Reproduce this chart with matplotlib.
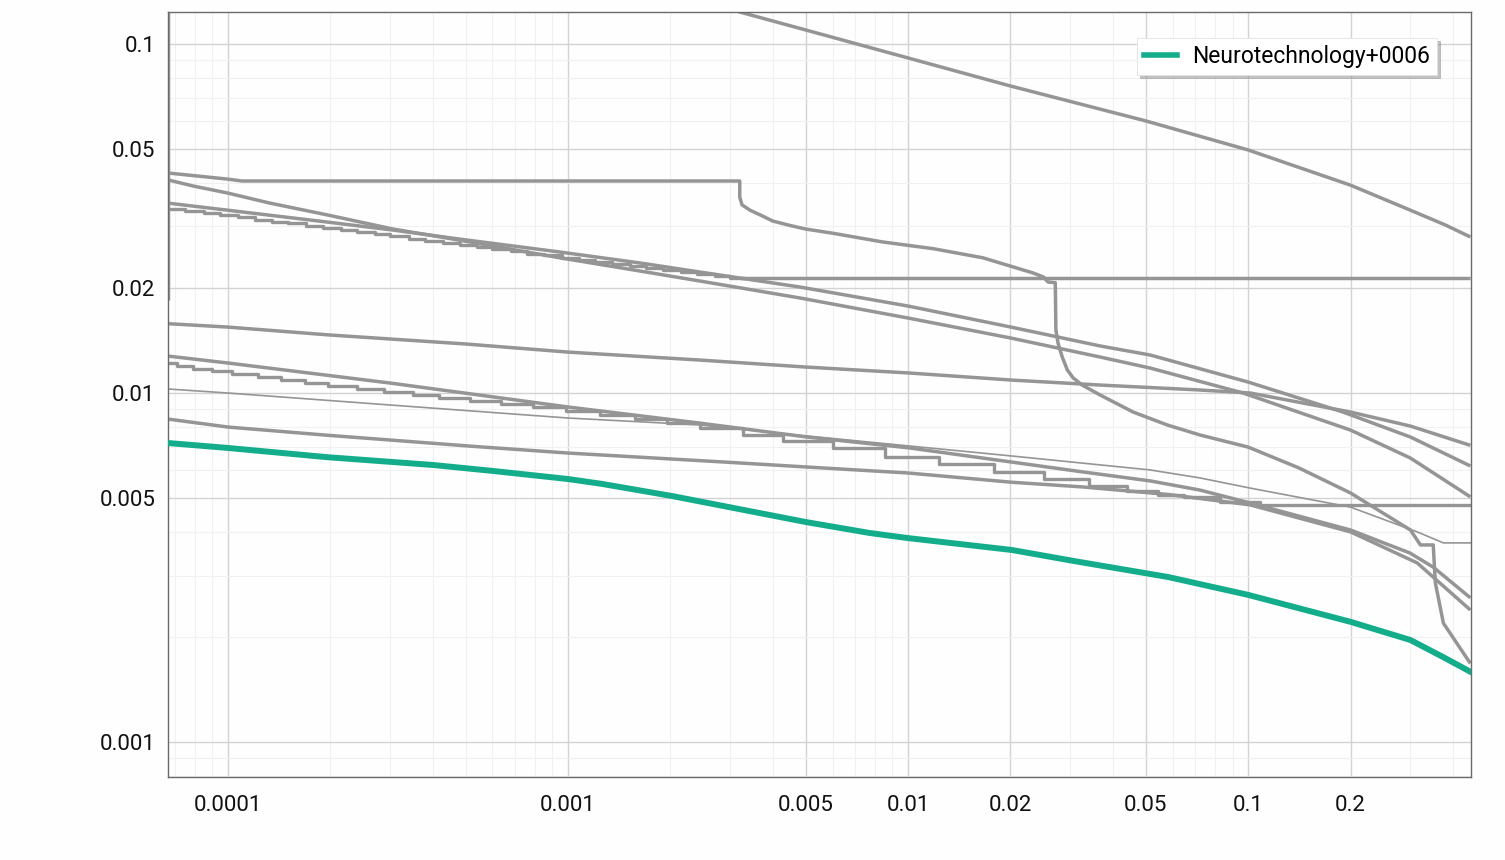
import matplotlib
matplotlib.use('Agg')
import matplotlib.pyplot as plt
from matplotlib.ticker import FixedLocator, FixedFormatter, LogLocator, NullFormatter

plt.rcParams['font.family'] = ['Roboto', 'DejaVu Sans']

# --- data ---
green_x = [6.67e-5, 1e-4, 1.955e-4, 4.01e-4, 6.02e-4, 1e-3, 1.26e-3, 2.02e-3, 2.98e-3, 5e-3, 7.73e-3,
           0.01, 0.0202, 0.0308, 0.0582, 0.1, 0.2, 0.3, 0.375, 0.45]
green_y = [0.00719, 0.00696, 0.00655, 0.00622, 0.00598, 0.00567, 0.00549, 0.00507, 0.00471, 0.00427,
           0.00397, 0.00384, 0.00355, 0.0033, 0.00297, 0.00264, 0.00221, 0.00196, 0.00175, 0.00159]

top_x = [3.0e-3, 3.2e-3, 5e-3, 0.01, 0.02, 0.05, 0.1, 0.2, 0.3, 0.38, 0.45]
top_y = [0.127, 0.1235, 0.1097, 0.0912, 0.0758, 0.0602, 0.0497, 0.0394, 0.0334, 0.0303, 0.028]

drop_x = [6.67e-5, 1e-4, 1.1e-4, 3.2e-3, 3.2e-3, 3.25e-3, 3.43e-3, 3.72e-3, 4.0e-3, 4.5e-3, 5.0e-3,
          6.0e-3, 8.4e-3, 0.0119, 0.0166, 0.0209, 0.0233, 0.025, 0.0258, 0.0271, 0.0272, 0.0276,
          0.0284, 0.0294, 0.0306, 0.0325, 0.0367, 0.0459, 0.0578, 0.0722, 0.1, 0.141, 0.2, 0.3, 0.321,
          0.35, 0.355, 0.375, 0.45]
drop_y = [0.0427, 0.041, 0.0405, 0.0405, 0.0364, 0.0346, 0.0334, 0.0322, 0.0311, 0.0302, 0.0295,
          0.0287, 0.0271, 0.0259, 0.0244, 0.0228, 0.02208, 0.0215, 0.0208, 0.0207, 0.0152, 0.0139,
          0.01268, 0.01164, 0.01104, 0.01054, 0.00987, 0.00882, 0.0081, 0.00758, 0.007, 0.0061,
          0.00517, 0.00405, 0.00367, 0.00367, 0.00286, 0.00219, 0.00168]

flat_x = [3.2e-3, 0.45]
flat_y = [0.0214, 0.0214]

edge_x = [6.67e-5, 6.67e-5]
edge_y = [0.13, 0.0185]

e_x = [6.67e-5, 7.89e-5, 1e-4, 1.33e-4, 1.955e-4, 3.06e-4, 4.81e-4, 9.47e-4, 1.63e-3, 2.44e-3, 4.81e-3,
       0.01, 0.02, 0.0367, 0.0515, 0.0966, 0.2, 0.3, 0.45]
e_y = [0.0408, 0.0392, 0.0374, 0.035, 0.0324, 0.0295, 0.0274, 0.0244, 0.02236, 0.02094, 0.01872,
       0.0164, 0.01438, 0.01268, 0.01179, 0.01, 0.00783, 0.00651, 0.00504]

f_x = [6.67e-5, 1e-4, 1.955e-4, 3.06e-4, 4.81e-4, 9.47e-4, 1.63e-3, 2.44e-3, 4.81e-3, 0.01, 0.02,
       0.0367, 0.0515, 0.1, 0.19, 0.3, 0.45]
f_y = [0.035, 0.0334, 0.0309, 0.0293, 0.0276, 0.02535, 0.02358, 0.02222, 0.02012, 0.01775, 0.01546,
       0.01364, 0.01285, 0.01075, 0.00882, 0.00748, 0.00618]

g_x = [6.7e-5, 7.5e-5, 8.5e-5, 9.5e-5, 1.07e-4, 1.2e-4, 1.35e-4, 1.5e-4, 1.7e-4, 1.9e-4, 2.15e-4,
       2.4e-4, 2.7e-4, 3.0e-4, 3.4e-4, 3.8e-4, 4.3e-4, 4.8e-4, 5.4e-4, 6.0e-4, 6.8e-4, 7.6e-4, 8.5e-4,
       9.6e-4, 1.08e-3, 1.2e-3, 1.35e-3, 1.52e-3, 1.7e-3, 1.9e-3, 2.15e-3, 2.4e-3, 2.7e-3, 3.0e-3, 3.3e-3]
g_y = [0.0337, 0.0332, 0.0328, 0.0323, 0.0319, 0.0314, 0.0310, 0.0306, 0.0301, 0.0297, 0.0293,
       0.0289, 0.0285, 0.0281, 0.0277, 0.0273, 0.0269, 0.0266, 0.0262, 0.0258, 0.0255, 0.0251, 0.0248,
       0.0244, 0.0241, 0.0238, 0.0234, 0.0231, 0.0228, 0.0225, 0.0222, 0.0219, 0.0216, 0.0213, 0.0213]

l_x = [6.67e-5, 1e-4, 2e-4, 5e-4, 1e-3, 2.44e-3, 5e-3, 0.0101, 0.0202, 0.0367, 0.0722, 0.1014, 0.2, 0.3, 0.45]
l_y = [0.0158, 0.01545, 0.01466, 0.01382, 0.0131, 0.01243, 0.01187, 0.01141, 0.01089, 0.01054, 0.0102,
       0.01, 0.00882, 0.00804, 0.00708]

h_x = [6.67e-5, 1e-4, 3.0e-4, 1e-3, 2.44e-3, 5.05e-3, 0.0101, 0.0202, 0.0327, 0.0515, 0.0722, 0.1014,
       0.2, 0.299, 0.35, 0.45]
h_y = [0.01276, 0.01219, 0.01068, 0.00912, 0.0082, 0.00748, 0.00696, 0.00634, 0.00594, 0.0056, 0.00527,
       0.00484, 0.00405, 0.00348, 0.00317, 0.00259]

i_x = [6.67e-5, 7.08e-5, 7.89e-5, 8.97e-5, 1.03e-4, 1.225e-4, 1.43e-4, 1.685e-4, 1.97e-4, 2.39e-4,
       2.88e-4, 3.5e-4, 4.17e-4, 5.15e-4, 6.35e-4, 7.89e-4, 9.87e-4, 1.242e-3, 1.574e-3, 1.955e-3,
       2.44e-3, 3.27e-3, 4.29e-3, 6.01e-3, 8.55e-3, 1.233e-2, 1.79e-2, 2.51e-2, 3.41e-2, 4.4e-2,
       5.43e-2, 6.48e-2, 8.27e-2, 0.1084, 0.45]
i_y = [0.01219, 0.01195, 0.01172, 0.01156, 0.01133, 0.01111, 0.01089, 0.01068, 0.01047, 0.01027,
       0.01007, 0.00987, 0.00968, 0.00948, 0.0093, 0.00912, 0.00888, 0.00865, 0.00842, 0.0082,
       0.00794, 0.00758, 0.00729, 0.00696, 0.00656, 0.00626, 0.00594, 0.00567, 0.00541, 0.00524,
       0.0051, 0.00504, 0.00487, 0.00478, 0.00478]

j_x = [6.67e-5, 1e-4, 3.0e-4, 1e-3, 2.44e-3, 5.05e-3, 0.0101, 0.0202, 0.0515, 0.0722, 0.1014, 0.2,
       0.314, 0.375, 0.45]
j_y = [0.01027, 0.01, 0.00924, 0.00848, 0.0081, 0.00753, 0.00705, 0.0066, 0.00602, 0.00571, 0.00534,
       0.00471, 0.004, 0.00372, 0.00372]

k_x = [6.67e-5, 1e-4, 1.955e-4, 5.3e-4, 1e-3, 2.98e-3, 5e-3, 0.01, 0.0202, 0.0327, 0.0582, 0.1014,
       0.2, 0.314, 0.45]
k_y = [0.00842, 0.00799, 0.00757, 0.00703, 0.00673, 0.00633, 0.00614, 0.0059, 0.00555, 0.00538,
       0.00512, 0.00478, 0.004, 0.00326, 0.00239]

x_ticks = [0.0001, 0.001, 0.005, 0.01, 0.02, 0.05, 0.1, 0.2]
x_labels = ['0.0001', '0.001', '0.005', '0.01', '0.02', '0.05', '0.1', '0.2']
y_ticks = [0.001, 0.005, 0.01, 0.02, 0.05, 0.1]
y_labels = ['0.001', '0.005', '0.01', '0.02', '0.05', '0.1']

GRAY = '#959595'
GREEN = '#14ad8b'

fig = plt.figure(figsize=(15.05, 8.6), dpi=100)
fig.patch.set_facecolor('#fefefe')
ax = fig.add_axes([168 / 1505, 1 - 777 / 860, 1303 / 1505, 765 / 860])
ax.set_facecolor('#fefefe')
ax.set_xscale('log')
ax.set_yscale('log')

for xs, ys in [(top_x, top_y), (drop_x, drop_y), (flat_x, flat_y), (edge_x, edge_y),
               (e_x, e_y), (f_x, f_y), (l_x, l_y), (h_x, h_y), (k_x, k_y)]:
    ax.plot(xs, ys, color=GRAY, lw=2.5, solid_joinstyle='round', solid_capstyle='butt')
for xs, ys in [(g_x, g_y), (i_x, i_y)]:
    ax.step(xs, ys, where='post', color=GRAY, lw=2.4)
ax.plot(j_x, j_y, color=GRAY, lw=1.2)
ax.plot(green_x, green_y, color=GREEN, lw=4.3, label='Neurotechnology+0006', zorder=5,
        solid_joinstyle='round')

ax.set_xlim(6.67e-5, 0.452)
ax.set_ylim(0.000794, 0.1235)

ax.xaxis.set_major_locator(FixedLocator(x_ticks))
ax.xaxis.set_major_formatter(FixedFormatter(x_labels))
ax.yaxis.set_major_locator(FixedLocator(y_ticks))
ax.yaxis.set_major_formatter(FixedFormatter(y_labels))
for axis in (ax.xaxis, ax.yaxis):
    axis.set_minor_locator(LogLocator(base=10, subs=range(1, 10), numticks=30))
    axis.set_minor_formatter(NullFormatter())

ax.grid(which='major', color='#d3d3d3', lw=1.0)
ax.grid(which='minor', color='#f1f1f1', lw=0.8)
ax.set_axisbelow(True)
ax.tick_params(which='both', length=0)
ax.tick_params(axis='x', pad=13, labelsize=16, labelcolor='#111111')
ax.tick_params(axis='y', pad=9, labelsize=16, labelcolor='#111111')
for sp in ax.spines.values():
    sp.set_color('#6a6a6a')
    sp.set_linewidth(1.0)

leg = ax.legend(loc='upper right', bbox_to_anchor=(0.974, 0.966), borderaxespad=0,
                fontsize=16.5, handlelength=1.45, handletextpad=0.65, borderpad=0.3,
                fancybox=False, framealpha=1, edgecolor='#e2e2e2',
                shadow={'color': '#888888', 'alpha': 0.5})
leg.get_frame().set_linewidth(0.6)
leg.get_lines()[0].set_linewidth(4.0)

fig.savefig('out.png', dpi=100)
